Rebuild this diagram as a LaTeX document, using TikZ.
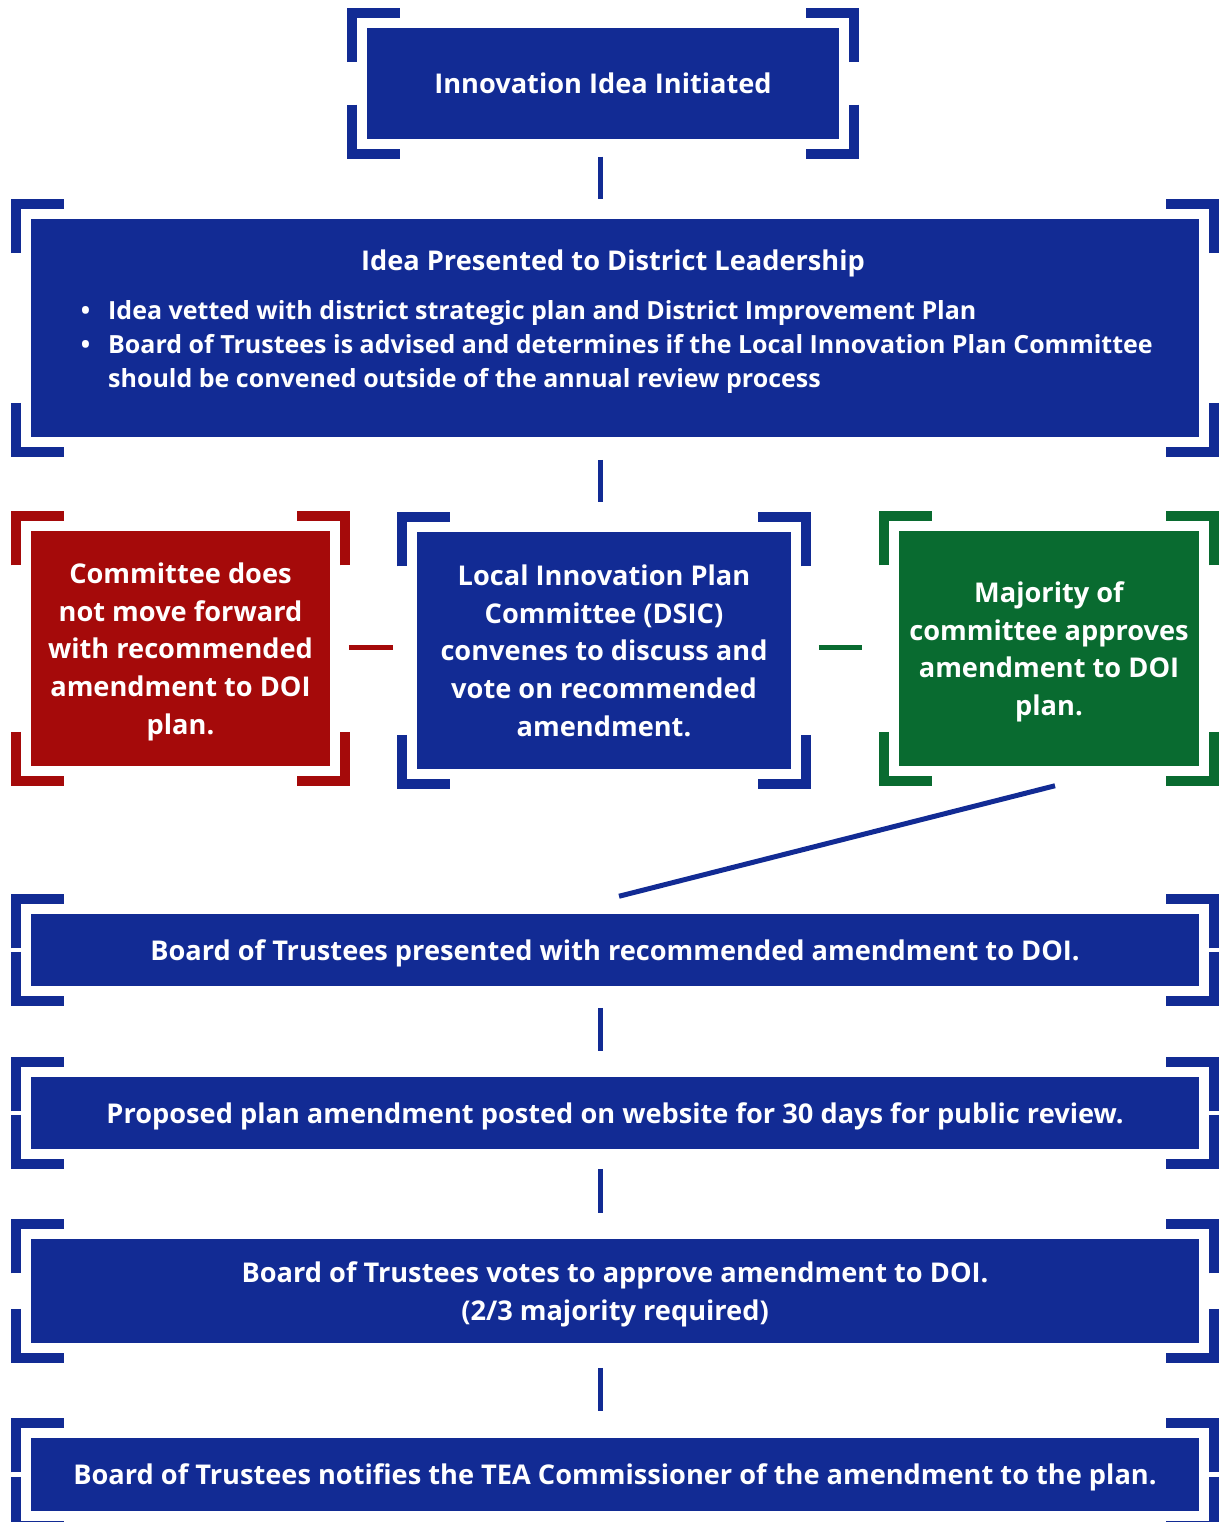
\documentclass[tikz,border=0pt]{standalone}
\usepackage{fontspec}
\setmainfont{Open Sans}
\usetikzlibrary{calc}
\definecolor{boxblue}{RGB}{18,43,148}
\definecolor{boxred}{RGB}{165,10,10}
\definecolor{boxgreen}{RGB}{9,107,48}
\tikzstyle{stage}=[rectangle, fill=boxblue, draw=white, line width=1.5pt, text=white, align=center, inner sep=0pt, text depth=0pt, font=\fontsize{27.2}{37.8}\selectfont\bfseries]
\tikzstyle{label}=[text=white, inner sep=0pt, font=\fontsize{25}{34}\selectfont\bfseries]
\tikzstyle{bracket}=[line width=10pt, miter limit=10]
\tikzstyle{link}=[line width=5pt, draw=boxblue]
\newcommand{\corners}[2]{%
  \draw[bracket, #2] ($(#1.north west)+(-13,36)$) -- ++(0,-49) -- ++(48,0);
  \draw[bracket, #2] ($(#1.north east)+(13,36)$) -- ++(0,-49) -- ++(-48,0);
  \draw[bracket, #2] ($(#1.south west)+(-13,-36)$) -- ++(0,49) -- ++(48,0);
  \draw[bracket, #2] ($(#1.south east)+(13,-36)$) -- ++(0,49) -- ++(-48,0);
}
\begin{document}
\begin{tikzpicture}[x=1pt, y=-1pt]
  \useasboundingbox (0,0) rectangle (1221,1522);
  \coordinate (spine) at (600,0);

  \node[stage, minimum width=474, minimum height=113] (idea) at (603,83.5) {Innovation Idea Initiated};
  \node[stage, minimum width=1170, minimum height=220] (lead) at (615,328) {};
  \node[label, font=\fontsize{27.2}{34}\selectfont\bfseries, anchor=base] (leadtitle) at (613,270) {Idea Presented to District Leadership};
  \node[label, anchor=north west, align=left] (leadlist) at (108,300) {%
    \llap{\textbullet\hspace{18pt}}Idea vetted with district strategic plan and District Improvement Plan\\
    \llap{\textbullet\hspace{18pt}}Board of Trustees is advised and determines if the Local Innovation Plan Committee\\
    should be convened outside of the annual review process};

  \node[stage, fill=boxred, minimum width=301, minimum height=237] (halt) at (180.5,648.5) {Committee does\\not move forward\\with recommended\\amendment to DOI\\plan.};
  \node[stage, minimum width=376, minimum height=239] (dsic) at (604,650.5) {Local Innovation Plan\\Committee (DSIC)\\convenes to discuss and\\vote on recommended\\amendment.};
  \node[stage, fill=boxgreen, minimum width=302, minimum height=237] (approve) at (1049,648.5) {Majority of\\committee approves\\amendment to DOI\\plan.};

  \node[stage, minimum width=1170, minimum height=74] (board) at (615,950) {Board of Trustees presented with recommended amendment to DOI.};
  \node[stage, minimum width=1170, minimum height=74] (posted) at (615,1113) {Proposed plan amendment posted on website for 30 days for public review.};
  \node[stage, minimum width=1170, minimum height=106] (vote) at (615,1291) {Board of Trustees votes to approve amendment to DOI.\\(2/3 majority required)};
  \node[stage, minimum width=1170, minimum height=75] (notify) at (615,1474.5) {Board of Trustees notifies the TEA Commissioner of the amendment to the plan.};

  \corners{idea}{boxblue}
  \corners{lead}{boxblue}
  \corners{halt}{boxred}
  \corners{dsic}{boxblue}
  \corners{approve}{boxgreen}
  \corners{board}{boxblue}
  \corners{posted}{boxblue}
  \corners{vote}{boxblue}
  \corners{notify}{boxblue}

  \draw[link, shorten <=16, shorten >=18] (idea.south -| spine) -- (lead.north -| spine);
  \draw[link, shorten <=21, shorten >=28] (lead.south -| spine) -- (dsic.north -| spine);
  \draw[link, draw=boxred, shorten <=17, shorten >=22] (halt.east |- 0,647) -- (dsic.west |- 0,647);
  \draw[link, draw=boxgreen, shorten <=26, shorten >=35] (dsic.east |- 0,647) -- (approve.west |- 0,647);
  \draw[link] ($(approve.south)+(6,18)$) -- ($(board.north)+(4,-16)$);
  \draw[link, shorten <=20, shorten >=24] (board.south -| spine) -- (posted.north -| spine);
  \draw[link, shorten <=18, shorten >=24] (posted.south -| spine) -- (vote.north -| spine);
  \draw[link, shorten <=23, shorten >=25] (vote.south -| spine) -- (notify.north -| spine);
\end{tikzpicture}
\end{document}
